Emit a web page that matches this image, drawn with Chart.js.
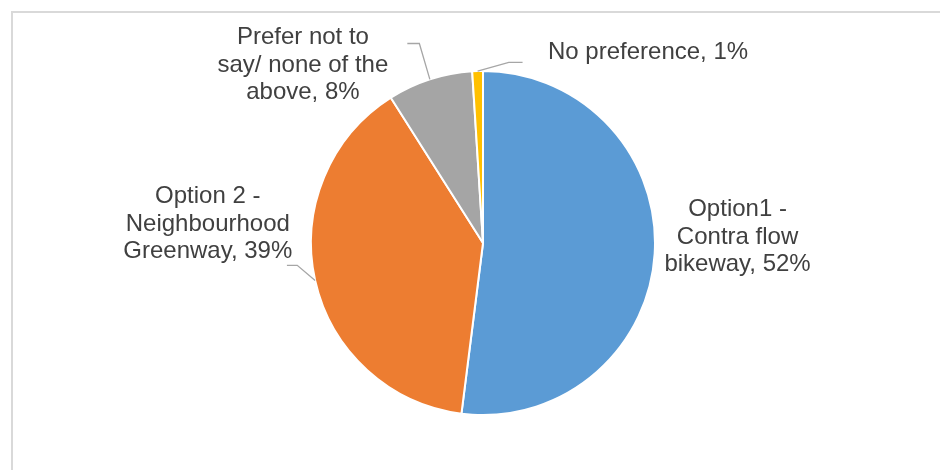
<!DOCTYPE html>
<html>
<head>
<meta charset="utf-8">
<script src="https://cdn.jsdelivr.net/npm/chart.js@4"></script>
<style>
  html, body { margin: 0; padding: 0; background: #fff; }
  #wrap { position: relative; width: 940px; height: 470px; }
</style>
</head>
<body>
<div id="wrap"><canvas id="pie" width="940" height="470"></canvas></div>
<script>
// Data
const labels = [
  ["Option1 -", "Contra flow", "bikeway, 52%"],
  ["Option 2 -", "Neighbourhood", "Greenway, 39%"],
  ["Prefer not to", "say/ none of the", "above, 8%"],
  ["No preference, 1%"],
];
const values = [52, 39, 8, 1];
const colors = ["#5B9BD5", "#ED7D31", "#A5A5A5", "#FFC000"];

// label placement, in units of pie radius from centre (dx, dy), text align, leader
const labelPos = [
  { dx: 1.48, dy: -0.035, align: "center", leader: false },
  { dx: -1.6, dy: -0.11, align: "center", leader: [[-1.08, 0.13], [-1.14, 0.13]] },
  { dx: -1.047, dy: -1.035, align: "center", leader: [[-0.37, -1.16], [-0.44, -1.16]] },
  { dx: 0.378, dy: -1.11, align: "left", leader: [[0.15, -1.05], [0.23, -1.05]] },
];

const TEXT = "#404040";
const FONT = "24px 'Liberation Sans', Arial, sans-serif";
const LINE_H = 27.5;

// light frame around the chart (right/bottom edge falls outside the picture)
const framePlugin = {
  id: "frame",
  beforeDraw(chart) {
    const { ctx } = chart;
    ctx.save();
    ctx.strokeStyle = "#d9d9d9";
    ctx.lineWidth = 2;
    ctx.beginPath();
    ctx.moveTo(12, 480);
    ctx.lineTo(12, 12);
    ctx.lineTo(950, 12);
    ctx.stroke();
    ctx.restore();
  },
};

// data labels + leader lines
const labelPlugin = {
  id: "pieLabels",
  afterDatasetsDraw(chart) {
    const { ctx } = chart;
    const arcs = chart.getDatasetMeta(0).data;
    ctx.save();
    arcs.forEach((arc, i) => {
      const { x, y, outerRadius: r, startAngle, endAngle } = arc.getProps(["x", "y", "outerRadius", "startAngle", "endAngle"], true);
      const p = labelPos[i];
      const mid = (startAngle + endAngle) / 2;

      if (p.leader) {
        ctx.strokeStyle = "#A6A6A6";
        ctx.lineWidth = 1.3;
        ctx.beginPath();
        ctx.moveTo(x + Math.cos(mid) * r, y + Math.sin(mid) * r);
        p.leader.forEach(([lx, ly]) => ctx.lineTo(x + lx * r, y + ly * r));
        ctx.stroke();
      }

      const lines = labels[i];
      const cx = x + p.dx * r;
      const cy = y + p.dy * r;
      ctx.font = FONT;
      ctx.fillStyle = TEXT;
      ctx.textAlign = p.align;
      ctx.textBaseline = "middle";
      const top = cy - (lines.length - 1) * LINE_H / 2;
      lines.forEach((t, k) => ctx.fillText(t, cx, top + k * LINE_H));
    });
    ctx.restore();
  },
};

new Chart(document.getElementById("pie"), {
  type: "pie",
  data: {
    labels: labels.map(l => l.join(" ")),
    datasets: [{
      data: values,
      backgroundColor: colors,
      borderColor: "#ffffff",
      borderWidth: 2,
    }],
  },
  options: {
    responsive: false,
    animation: false,
    layout: { padding: { left: 310, right: 284, top: 70, bottom: 54 } },
    plugins: {
      legend: { display: false },
      tooltip: { enabled: false },
    },
  },
  plugins: [framePlugin, labelPlugin],
});
</script>
</body>
</html>
